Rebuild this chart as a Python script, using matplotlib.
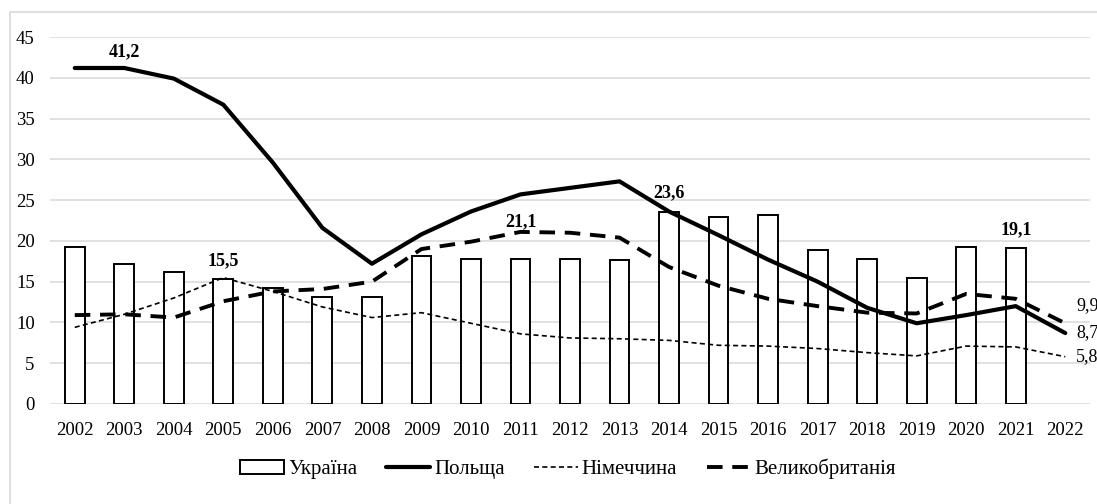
import numpy as np
import matplotlib.pyplot as plt
from matplotlib.patches import Rectangle

plt.rcParams['font.family'] = ['Liberation Serif', 'DejaVu Serif']

years = [str(y) for y in range(2002, 2023)]

# values
ukraine = [19.2, 17.2, 16.2, 15.3, 14.2, 13.1, 13.1, 18.1, 17.8, 17.8, 17.8,
           17.6, 23.5, 22.9, 23.2, 18.9, 17.8, 15.5, 19.3, 19.1, np.nan]
poland = [41.2, 41.2, 39.9, 36.7, 29.6, 21.6, 17.2, 20.8, 23.6, 25.7, 26.5,
          27.3, 23.6, 20.7, 17.7, 15.0, 11.8, 9.9, 10.9, 12.0, 8.7]
germany = [9.4, 11.0, 13.0, 15.5, 13.8, 11.9, 10.6, 11.2, 9.9, 8.6, 8.1,
           8.0, 7.8, 7.2, 7.1, 6.8, 6.3, 5.9, 7.1, 7.0, 5.8]
britain = [10.9, 11.0, 10.6, 12.6, 13.8, 14.1, 15.0, 19.0, 19.9, 21.1, 21.0,
           20.4, 16.8, 14.5, 12.9, 12.0, 11.2, 11.1, 13.5, 12.9, 9.9]

names = ['Україна', 'Польща', 'Німеччина', 'Великобританія']

fig = plt.figure(figsize=(10.97, 5.04), dpi=100)
ax = fig.add_axes([50 / 1097, 1 - 404 / 504, 1040 / 1097, 367 / 504])

# outer frame of the chart
fig.patches.append(Rectangle((10 / 1097, -0.1), 1.2, 1 - 12 / 504 + 0.1,
                             transform=fig.transFigure, fill=False,
                             edgecolor='#d9d9d9', lw=1.2))

x = np.arange(len(years))
h_ua = ax.bar(x, ukraine, width=0.4, color='white', edgecolor='black', lw=1.4,
              zorder=2, label=names[0])
h_pl, = ax.plot(x, poland, color='black', lw=3.0, zorder=4, label=names[1],
                solid_capstyle='round')
h_de, = ax.plot(x, germany, color='black', lw=1.2, dashes=(3, 2), zorder=3,
                label=names[2])
h_gb, = ax.plot(x, britain, color='black', lw=2.8, dashes=(4, 2.5), zorder=3,
                label=names[3])

ax.set_xlim(-0.5, len(years) - 0.5)
ax.set_ylim(0, 45)
ax.set_yticks(range(0, 46, 5))
ax.set_xticks(x)
ax.set_xticklabels(years)
ax.tick_params(axis='both', length=0, labelsize=13.5)
ax.tick_params(axis='y', pad=11)
ax.tick_params(axis='x', pad=13)
ax.grid(axis='y', color='#d9d9d9', lw=1.1, zorder=0)
ax.set_axisbelow(True)
for s in ax.spines.values():
    s.set_visible(False)

# bold data labels
bold_labels = [(poland, 1, 12), (germany, 3, 12), (britain, 9, 7.5),
               (poland, 12, 13.5), (ukraine, 19, 13.5)]
for series, i, off in bold_labels:
    ax.annotate(f'{series[i]:.1f}'.replace('.', ','), (x[i], series[i]),
                xytext=(0, off), textcoords='offset points', ha='center',
                va='center', fontsize=13, fontweight='bold')

# end labels on the right
for series, off in [(britain, 13), (poland, 0), (germany, 0)]:
    ax.annotate(f'{series[-1]:.1f}'.replace('.', ','), (x[-1], series[-1]),
                xytext=(8, off), textcoords='offset points', ha='left',
                va='center', fontsize=13, annotation_clip=False)

fig.legend([h_ua, h_pl, h_de, h_gb], names, loc='center',
           bbox_to_anchor=(568 / 1097, 1 - 469 / 504),
           ncol=4, frameon=False, fontsize=15, handlelength=2.1,
           handleheight=0.6, handletextpad=0.2, columnspacing=1.4)

fig.savefig('out.png', dpi=100)
